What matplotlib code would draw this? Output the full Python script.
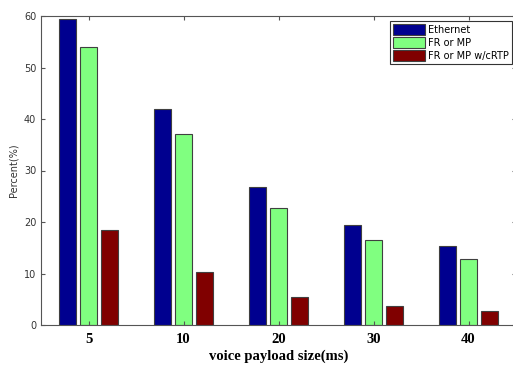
import matplotlib.pyplot as plt
import numpy as np

payload = ['5', '10', '20', '30', '40']
ethernet = [59.4, 42.0, 26.7, 19.5, 15.3]
fr_mp = [54.0, 37.0, 22.8, 16.5, 12.9]
fr_mp_crtp = [18.4, 10.2, 5.4, 3.7, 2.8]

series = [
    ('Ethernet', ethernet, '#00008f'),
    ('FR or MP', fr_mp, '#80ff80'),
    ('FR or MP w/cRTP', fr_mp_crtp, '#800000'),
]

fig = plt.figure(figsize=(5.13, 3.66), dpi=100)
ax = fig.add_axes([41 / 513, 1 - 325 / 366, 475 / 513, 309 / 366])

x = np.arange(1, len(payload) + 1)
offs = [-0.222, 0.0, 0.222]
for (nombre, vals, color), d in zip(series, offs):
    ax.bar(x + d, vals, width=0.18, color=color, edgecolor='#404040',
           linewidth=0.8, label=nombre)

ax.set_xlim(0.5, 5.5)
ax.set_ylim(0, 60)
ax.set_xticks(x)
ax.set_xticklabels(payload, fontfamily='Liberation Serif', fontweight='bold', fontsize=10.5)
ax.set_yticks(range(0, 61, 10))
ax.tick_params(axis='y', labelsize=7, labelcolor='#333333')
ax.tick_params(direction='in', top=True, right=True, length=3, color='#555555')
ax.tick_params(axis='x', pad=6)
for s in ax.spines.values():
    s.set_color('#555555')
    s.set_linewidth(0.8)

ax.set_xlabel('voice payload size(ms)', fontfamily='Liberation Serif', fontweight='bold',
              fontsize=10.5, labelpad=2)
ax.set_ylabel('Percent(%)', fontsize=7, color='#333333', labelpad=4)

leg = ax.legend(loc='upper right', bbox_to_anchor=(471 / 475, 304 / 309), fontsize=7,
                frameon=True, fancybox=False, edgecolor='#333333', framealpha=1,
                handlelength=3.3, handleheight=1.3, handletextpad=0.25,
                borderpad=0.35, labelspacing=0.25, borderaxespad=0)
leg.get_frame().set_linewidth(0.8)

fig.savefig('out.png', dpi=100)
